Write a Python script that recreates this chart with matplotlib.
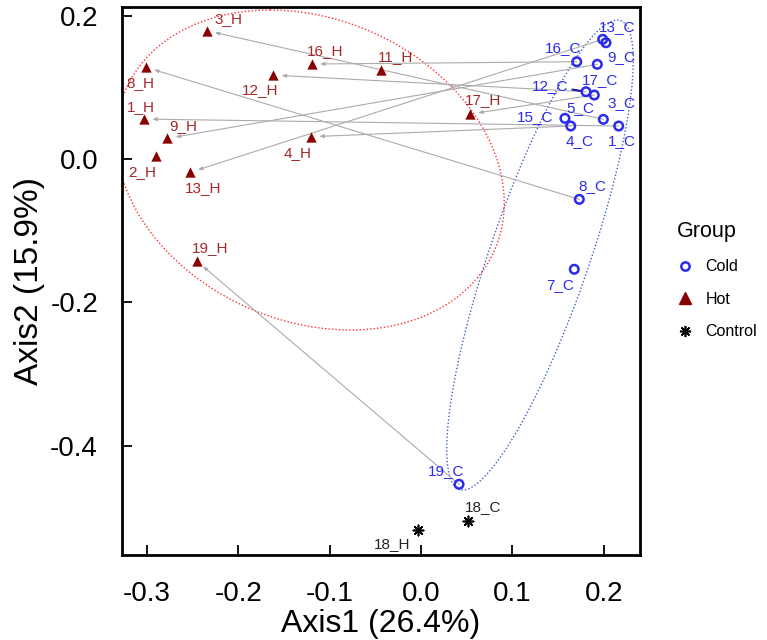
"""
PCoA style plot of hot / cold samples with paired arrows and group ellipses
"""
import numpy as np
import matplotlib
matplotlib.use('Agg')
import matplotlib.pyplot as plt
from matplotlib.lines import Line2D

plt.rcParams['font.family'] = ['Liberation Sans', 'DejaVu Sans']

# hot samples (triangles)
hotNames = ['1_H', '2_H', '3_H', '4_H', '8_H', '9_H', '11_H', '12_H', '13_H', '16_H', '17_H', '19_H']
hotX = [-0.303, -0.290, -0.2345, -0.1204, -0.3009, -0.2775, -0.0438, -0.1616, -0.2527, -0.1196, 0.0536, -0.2454]
hotY = [0.0557, 0.0046, 0.1788, 0.0311, 0.1278, 0.0288, 0.124, 0.117, -0.0186, 0.1324, 0.0627, -0.1422]
hotLabX = [-0.3067, -0.3045, -0.2108, -0.1353, -0.3067, -0.2607, -0.0284, -0.1761, -0.2382, -0.105, 0.0678, -0.2309]
hotLabY = [0.0729, -0.0177, 0.1947, 0.0088, 0.1055, 0.046, 0.142, 0.0962, -0.0408, 0.151, 0.0822, -0.1245]

# cold samples (open circles)
coldNames = ['1_C', '3_C', '4_C', '5_C', '7_C', '8_C', '9_C', '12_C', '13_C', '15_C', '16_C', '17_C', '19_C']
coldX = [0.2163, 0.1995, 0.1638, 0.2024, 0.1677, 0.1732, 0.1929, 0.1805, 0.1988, 0.1575, 0.1704, 0.1896, 0.0416]
coldY = [0.046, 0.0553, 0.046, 0.1621, -0.1537, -0.0562, 0.132, 0.0938, 0.1668, 0.0567, 0.1356, 0.0892, -0.4534]
coldLabX = [0.2196, 0.2196, 0.174, 0.174, 0.1528, 0.1878, 0.2196, 0.1411, 0.2141, 0.1247, 0.1557, 0.1958, 0.0274]
coldLabY = [0.0256, 0.0776, 0.0256, 0.0706, -0.1756, -0.0376, 0.1426, 0.1017, 0.1844, 0.059, 0.1543, 0.1101, -0.4344]

# controls
ctrlNames = ['18_H', '18_C']
ctrlX = [-0.003, 0.0518]
ctrlY = [-0.517, -0.504]
ctrlLabX = [-0.0317, 0.0675]
ctrlLabY = [-0.5366, -0.4855]

# samples measured in both conditions
pairIds = ['1', '3', '4', '8', '9', '12', '13', '16', '17', '19']

# group ellipses: centre and two conjugate half-axes
hotEllCenter = [-0.1214, -0.0153]
hotEllAxisA = [-0.0438, 0.2230]
hotEllAxisB = [0.2079, 0.0]
coldEllCenter = [0.1302, -0.1338]
coldEllAxisA = [0.0844, 0.3275]
coldEllAxisB = [0.0574, 0.0]

hotCol = '#8B0000'
hotTxt = '#A52828'
coldCol = '#2B2BF0'
coldTxt = '#2B2BEE'


def ellipsePts(center, axA, axB, n=200):
    """outline of an ellipse from its centre and two conjugate half-axes"""
    t = np.linspace(0, 2 * np.pi, n)
    x = center[0] + np.cos(t) * axA[0] + np.sin(t) * axB[0]
    y = center[1] + np.cos(t) * axA[1] + np.sin(t) * axB[1]
    return x, y


fig = plt.figure(figsize=(7.67, 6.4), dpi=100)
ax = fig.add_axes([0.1587, 0.1328, 0.6757, 0.8567])

# ellipses
ex, ey = ellipsePts(hotEllCenter, hotEllAxisA, hotEllAxisB)
ax.plot(ex, ey, color='#FF3030', linestyle=(0, (1, 1.5)), lw=1.0, zorder=1)
ex, ey = ellipsePts(coldEllCenter, coldEllAxisA, coldEllAxisB)
ax.plot(ex, ey, color='#3D62C4', linestyle=(0, (1, 1.5)), lw=1.0, zorder=1)

# arrows cold -> hot
for pid in pairIds:
    h = hotNames.index(pid + '_H')
    c = coldNames.index(pid + '_C')
    ax.annotate('', xy=(hotX[h], hotY[h]), xytext=(coldX[c], coldY[c]),
                arrowprops=dict(arrowstyle='-|>,head_length=0.25,head_width=0.1', color='#ABABAB',
                                lw=0.8, shrinkA=0, shrinkB=6), zorder=2)

# points
ax.scatter(coldX, coldY, s=38, facecolors='none', edgecolors=coldCol, linewidths=1.8, zorder=3)
ax.scatter(hotX, hotY, s=55, marker='^', color=hotCol, linewidths=0, zorder=3)
ax.scatter(ctrlX, ctrlY, s=55, marker=(8, 2, 0), color='black', linewidths=1.2, zorder=3)

# labels
for i in range(len(hotNames)):
    ax.text(hotLabX[i], hotLabY[i], hotNames[i], color=hotTxt, fontsize=11, ha='center', va='center', zorder=4)
for i in range(len(coldNames)):
    if coldNames[i] == '12_C':
        ax.annotate(coldNames[i], xy=(coldX[i], coldY[i]), xytext=(coldLabX[i], coldLabY[i]),
                    color=coldTxt, fontsize=11, ha='center', va='center', zorder=4,
                    arrowprops=dict(arrowstyle='-', color='#1A1A9A', lw=1.5, shrinkA=1, shrinkB=4))
    else:
        ax.text(coldLabX[i], coldLabY[i], coldNames[i], color=coldTxt, fontsize=11, ha='center', va='center', zorder=4)
for i in range(len(ctrlNames)):
    ax.text(ctrlLabX[i], ctrlLabY[i], ctrlNames[i], color='#222222', fontsize=11, ha='center', va='center', zorder=4)

ax.set_xlim(-0.3275, 0.2396)
ax.set_ylim(-0.552, 0.2123)
ax.set_xticks([-0.3, -0.2, -0.1, 0.0, 0.1, 0.2])
ax.set_xticklabels(['-0.3', '-0.2', '-0.1', '0.0', '0.1', '0.2'])
ax.set_yticks([-0.4, -0.2, 0.0, 0.2])
ax.set_yticklabels(['-0.4', '-0.2', '0.0', '0.2'])
ax.tick_params(direction='in', length=7, width=1.3, labelsize=20, colors='black')
ax.tick_params(axis='x', pad=19)
ax.tick_params(axis='y', pad=17)
for sp in ax.spines.values():
    sp.set_linewidth(2.0)

ax.set_xlabel('Axis1 (26.4%)', fontsize=23, labelpad=1)
ax.set_ylabel('Axis2 (15.9%)', fontsize=24, labelpad=4)

handles = [Line2D([], [], linestyle='none', marker='o', markersize=6, markerfacecolor='none',
                  markeredgecolor=coldCol, markeredgewidth=1.8),
           Line2D([], [], linestyle='none', marker='^', markersize=8, color=hotCol),
           Line2D([], [], linestyle='none', marker=(8, 2, 0), markersize=8, color='black', markeredgewidth=1.2)]
leg = fig.legend(handles, ['Cold', 'Hot', 'Control'], title='Group', loc='upper left',
                 bbox_to_anchor=(0.874, 0.665), frameon=False, fontsize=11.5, title_fontsize=15.5,
                 labelspacing=1.1, handletextpad=0.8, handlelength=1.0, borderaxespad=0)
leg._legend_box.align = 'left'

plt.savefig('out.png', dpi=100)
